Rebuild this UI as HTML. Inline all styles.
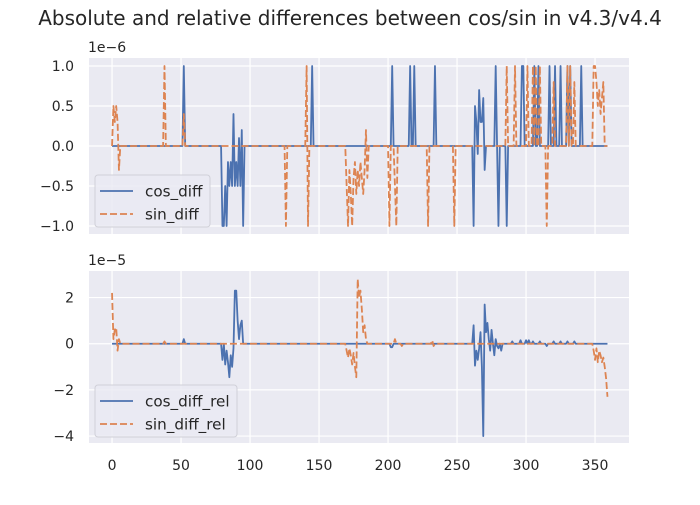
<!DOCTYPE html>
<html><head><meta charset="utf-8"><style>
body{margin:0;background:#fff;}
svg{font-family:"DejaVu Sans","Liberation Sans",sans-serif;}
</style></head><body>
<svg id="chart" width="700" height="500" viewBox="0 0 700 500">
<text x="350" y="25" text-anchor="middle" font-size="20" fill="#262626">Absolute and relative differences between cos/sin in v4.3/v4.4</text>
</svg>
<script>
// ---- data (degree index, value) ----
const xTicks = [0,50,100,150,200,250,300,350];
const topYTicks = [1.0,0.5,0.0,-0.5,-1.0];
const botYTicks = [2,0,-2,-4];
const cosDiffIdx = [52,80,81,82,83,84,85,86,87,88,89,90,91,92,93,94,95,145,203,216,219,234,262,263,264,265,266,267,268,269,270,278,280,286,297,298,306,309,317,321,325,330,332,340];
const cosDiffVal = [1,-1,-1,-0.5,-1,-0.2,-0.5,-0.2,-0.5,0.4,-0.5,-0.2,-0.5,0.1,-0.5,0.2,-1,1,1,1,1,1,-1,0.5,0.3,-0.1,0.7,0.3,0.3,0.6,-0.3,1,-1,-1,1,1,1,1,1,1,1,1,1,1];
const sinDiffIdx = [1,2,3,4,5,38,52,126,141,142,170,171,172,173,174,175,176,177,178,179,180,181,182,183,184,185,201,205,206,229,248,286,292,301,305,307,310,315,320,330,332,335,349,350,351,352,353,354,355,356];
const sinDiffVal = [0.5,0.3,0.5,0.3,-0.3,1,0.4,-1,1,-1,-0.5,-1,-0.3,-0.6,-1,-0.4,-0.2,-0.6,-0.3,-0.5,-0.2,-0.4,-0.6,-0.3,0.2,-0.4,-1,-0.5,-1,-1,-1,1,1,1,1,1,1,-1,0.8,1,1,0.8,1,1,0.8,0.5,0.7,0.4,0.6,0.8];
const cosRelIdx = [52,80,82,83,84,85,86,87,88,89,90,91,92,93,94,202,203,262,263,264,265,266,267,268,269,270,271,272,273,274,275,277,278,279,280,282,290,296,300,302,305,310,315,320,325,330,335];
const cosRelVal = [0.2,-0.7,-0.9,-0.3,-0.8,-1.45,-0.5,-1.0,-0.2,2.3,2.3,1.0,0.2,0.8,1.0,-0.15,-0.15,0.8,-0.95,-0.3,-0.7,-0.2,0.5,-1.0,-4.0,1.7,0.5,0.9,0.2,-0.3,0.6,-0.5,0.2,-0.1,-0.2,-0.3,0.1,0.15,0.15,0.15,0.1,0.1,-0.1,0.1,0.1,0.1,0.1];
const sinRelIdx = [0,1,2,3,4,5,38,170,171,172,173,174,175,176,177,178,179,180,181,182,183,184,205,210,232,233,349,350,351,352,353,354,355,356,357,358,359];
const sinRelVal = [2.2,0.2,0.6,0.7,-0.3,0.2,0.1,-0.3,-0.6,-0.2,-0.5,-0.9,-0.4,-1.0,-1.45,2.8,2.0,2.3,1.5,0.5,0.8,0.2,0.2,-0.1,0.15,-0.1,-0.3,-0.7,-0.2,-0.8,-0.3,-0.5,-0.8,-0.6,-1.0,-1.5,-2.3];
// -----
const svg = document.getElementById('chart');
const NS = 'http://www.w3.org/2000/svg';
const N = 360;
function fill(idx, val){const a=new Array(N).fill(0);idx.forEach((d,i)=>{a[d]=val[i];});return a;}
function mk(tag, attrs){const e=document.createElementNS(NS,tag);for(const k in attrs)e.setAttribute(k,attrs[k]);return e;}
const X0=89,X1=629;
const xMin=-16.7,xMax=374.6;
const xs = v => X0 + (v-xMin)/(xMax-xMin)*(X1-X0);

function panel(name, top, bottom, yMin, yMax, yTicks, fmt, expo, s1, s2, leg){
  const ys = v => bottom - (v-yMin)/(yMax-yMin)*(bottom-top);
  const g = mk('g',{});
  
  
  svg.appendChild(g);
  const bg = mk('rect',{x:X0,y:top,width:X1-X0,height:bottom-top,fill:'#EAEAF2'});
  
  
  g.appendChild(bg);
  xTicks.forEach(t=>{
    const l=mk('line',{x1:xs(t),x2:xs(t),y1:top,y2:bottom,stroke:'#fff','stroke-width':1.2});
    
    
    g.appendChild(l);
  });
  yTicks.forEach(t=>{
    const l=mk('line',{x1:X0,x2:X1,y1:ys(t),y2:ys(t),stroke:'#fff','stroke-width':1.2});
    
    
    g.appendChild(l);
    const tx=mk('text',{x:74,y:ys(t)+5,'text-anchor':'end','font-size':14,fill:'#262626'});
    tx.textContent=fmt(t);
    
    
    g.appendChild(tx);
  });
  const ex=mk('text',{x:X0-1,y:top-6,'font-size':14,fill:'#262626'});
  ex.textContent=expo;
  
  
  g.appendChild(ex);
  [s1,s2].forEach(s=>{
    const arr=fill(s.idx,s.val);
    let d='';
    arr.forEach((v,i)=>{d+=(i?'L':'M')+xs(i).toFixed(2)+' '+ys(v).toFixed(2);});
    const p=mk('path',{d:d,fill:'none',stroke:s.color,'stroke-width':1.8,'stroke-linejoin':'round'});
    if(s.dash)p.setAttribute('stroke-dasharray','7,3');
    
    
    g.appendChild(p);
  });
  const lg=mk('g',{});
  
  
  g.appendChild(lg);
  lg.appendChild(mk('rect',{x:leg.x,y:leg.y,width:leg.w,height:52,rx:3,fill:'#EAEAF2','fill-opacity':0.8,stroke:'#d0d0d8'}));
  [s1,s2].forEach((s,i)=>{
    const yy=leg.y+16+i*23;
    const l=mk('line',{x1:leg.x+5,x2:leg.x+38,y1:yy,y2:yy,stroke:s.color,'stroke-width':1.8});
    if(s.dash)l.setAttribute('stroke-dasharray','7,3');
    lg.appendChild(l);
    const t=mk('text',{x:leg.x+50,y:yy+5.5,'font-size':15.2,fill:'#262626'});
    t.textContent=s.name;
    
    
    lg.appendChild(t);
  });
}
const minus = s => s.replace('-','\u2212');
panel('top-panel',58,234,-1.1,1.1,topYTicks,t=>minus(t.toFixed(1)),'1e\u22126',
  {idx:cosDiffIdx,val:cosDiffVal,color:'#4C72B0',name:'cos_diff'},
  {idx:sinDiffIdx,val:sinDiffVal,color:'#DD8452',dash:true,name:'sin_diff'},
  {x:95,y:175,w:115});
panel('bottom-panel',271,443,-4.3,3.15,botYTicks,t=>minus(String(t)),'1e\u22125',
  {idx:cosRelIdx,val:cosRelVal,color:'#4C72B0',name:'cos_diff_rel'},
  {idx:sinRelIdx,val:sinRelVal,color:'#DD8452',dash:true,name:'sin_diff_rel'},
  {x:95,y:385,w:142});
xTicks.forEach(t=>{
  const tx=mk('text',{x:xs(t),y:470,'text-anchor':'middle','font-size':14,fill:'#262626'});
  tx.textContent=String(t);
  
  
  svg.appendChild(tx);
});
</script>
</body></html>
